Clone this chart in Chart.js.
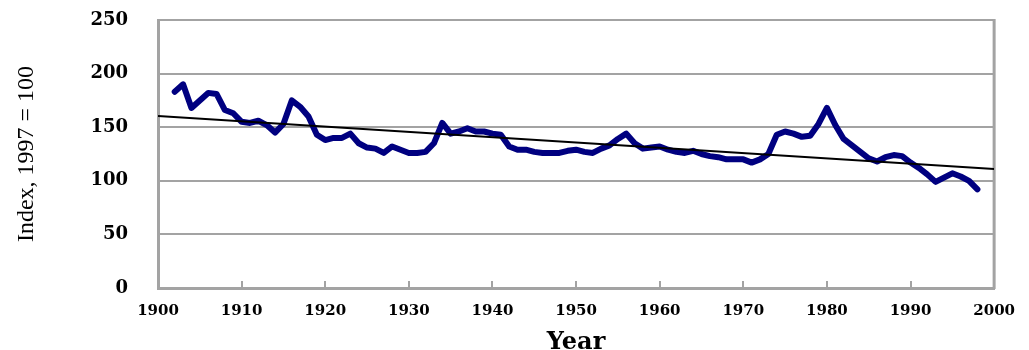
<!DOCTYPE html>
<html>
<head>
<meta charset="utf-8">
<script src="https://cdn.jsdelivr.net/npm/chart.js@4.4.0/dist/chart.umd.min.js"></script>
<style>
  html, body { margin: 0; padding: 0; background: #fff; }
  #wrap { width: 1029px; height: 350px; }
</style>
</head>
<body>
<div id="wrap"><canvas id="chart" width="1029" height="350"></canvas></div>
<script>
// =========================
// DATA
// =========================
const years = [
  1902, 1903, 1904, 1905, 1906, 1907, 1908, 1909, 1910, 1911,
  1912, 1913, 1914, 1915, 1916, 1917, 1918, 1919, 1920, 1921,
  1922, 1923, 1924, 1925, 1926, 1927, 1928, 1929, 1930, 1931,
  1932, 1933, 1934, 1935, 1936, 1937, 1938, 1939, 1940, 1941,
  1942, 1943, 1944, 1945, 1946, 1947, 1948, 1949, 1950, 1951,
  1952, 1953, 1954, 1955, 1956, 1957, 1958, 1959, 1960, 1961,
  1962, 1963, 1964, 1965, 1966, 1967, 1968, 1969, 1970, 1971,
  1972, 1973, 1974, 1975, 1976, 1977, 1978, 1979, 1980, 1981,
  1982, 1983, 1984, 1985, 1986, 1987, 1988, 1989, 1990, 1991,
  1992, 1993, 1994, 1995, 1996, 1997, 1998
];

const indexValues = [
  183, 190, 168, 175, 182, 181, 166, 163, 155, 154,
  156, 152, 145, 153, 175, 169, 160, 143, 138, 140,
  140, 144, 135, 131, 130, 126, 132, 129, 126, 126,
  127, 135, 154, 144, 146, 149, 146, 146, 144, 143,
  132, 129, 129, 127, 126, 126, 126, 128, 129, 127,
  126, 130, 133, 139, 144, 135, 130, 131, 132, 129,
  127, 126, 128, 125, 123, 122, 120, 120, 120, 117,
  120, 125, 143, 146, 144, 141, 142, 153, 168, 152,
  139, 133, 127, 121, 118, 122, 124, 123, 117, 112,
  106, 99, 103, 107, 104, 100, 92
];

// linear trend, read at both ends of the axis
const trendYears = [1900, 2000];
const trendValues = [160.5, 111];

const xTicks = [1900, 1910, 1920, 1930, 1940, 1950, 1960, 1970, 1980, 1990, 2000];
const yTicks = [0, 50, 100, 150, 200, 250];

const AXIS_GRAY = "#a3a3a3";

// =========================
// FRAME PLUGIN (right border + inside tick marks)
// =========================
const framePlugin = {
  id: "frame",
  beforeDatasetsDraw(chart) {
    const { ctx, chartArea: a, scales } = chart;
    ctx.save();
    ctx.strokeStyle = AXIS_GRAY;
    ctx.lineWidth = 3;
    ctx.beginPath();
    ctx.moveTo(a.right, a.top - 1);
    ctx.lineTo(a.right, a.bottom + 1);
    ctx.stroke();

    ctx.lineWidth = 2;
    ctx.beginPath();
    xTicks.slice(1, -1).forEach(v => {
      const px = Math.round(scales.x.getPixelForValue(v));
      ctx.moveTo(px, a.bottom);
      ctx.lineTo(px, a.bottom - 7);
    });
    ctx.stroke();
    ctx.restore();
  }
};

// =========================
// DRAW CHART
// =========================
const ctx = document.getElementById("chart").getContext("2d");

new Chart(ctx, {
  type: "line",
  data: {
    datasets: [
      {
        label: "Trend",
        data: trendYears.map((y, i) => ({ x: y, y: trendValues[i] })),
        borderColor: "#000000",
        borderWidth: 2,
        pointRadius: 0,
        tension: 0
      },
      {
        label: "Index",
        data: years.map((y, i) => ({ x: y, y: indexValues[i] })),
        borderColor: "#000080",
        borderWidth: 6,
        borderJoinStyle: "round",
        borderCapStyle: "round",
        pointRadius: 0,
        tension: 0
      }
    ]
  },
  options: {
    responsive: false,
    animation: false,
    layout: { padding: { top: 20, right: 31, left: 0, bottom: 0 } },
    plugins: {
      legend: { display: false },
      tooltip: { enabled: false }
    },
    scales: {
      x: {
        type: "linear",
        min: 1900,
        max: 2000,
        afterBuildTicks: s => { s.ticks = xTicks.map(v => ({ value: v })); },
        afterFit: s => { s.height = 62; },
        grid: { display: false, drawTicks: false },
        border: { display: true, color: AXIS_GRAY, width: 3 },
        ticks: {
          autoSkip: false,
          maxRotation: 0,
          padding: 14,
          color: "#000",
          font: { family: "DejaVu Serif", weight: "bold", size: 15 },
          callback: v => String(v)
        },
        title: {
          display: true,
          text: "Year",
          color: "#000",
          padding: 0,
          font: { family: "DejaVu Serif", weight: "bold", size: 24, lineHeight: 0.6 }
        }
      },
      y: {
        min: 0,
        max: 250,
        afterBuildTicks: s => { s.ticks = yTicks.map(v => ({ value: v })); },
        afterFit: s => {
          s.width = 158;
          s.paddingTop = 0;
          s.paddingBottom = 0;
        },
        grid: { color: AXIS_GRAY, lineWidth: 2, drawTicks: false },
        border: { display: true, color: AXIS_GRAY, width: 3 },
        ticks: {
          padding: 30,
          color: "#000",
          font: { family: "DejaVu Serif", weight: "bold", size: 18 }
        },
        title: {
          display: true,
          text: "Index, 1997 = 100",
          color: "#000",
          padding: { top: 12, bottom: 0 },
          font: { family: "Liberation Serif", size: 24 }
        }
      }
    }
  },
  plugins: [framePlugin]
});
</script>
</body>
</html>
